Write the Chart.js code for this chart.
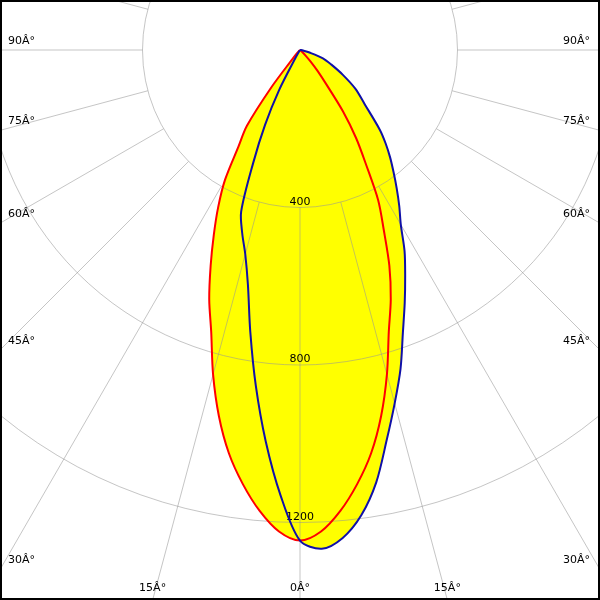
<!DOCTYPE html>
<html>
<head>
<meta charset="utf-8">
<script src="https://cdn.jsdelivr.net/npm/chart.js@4.4.0/dist/chart.umd.min.js"></script>
<style>
  body { margin: 0; background: #fff; }
  canvas { display: block; }
</style>
</head>
<body>
<canvas id="chartCanvas" width="600" height="600"></canvas>
<script>
// Angles in degrees (0 = straight down, negative = left half of the diagram)
const angles = [-90, -80, -70, -60, -50,
  -45, -42.5, -40, -37.5, -35, -32.5, -30, -27.5, -25, -22.5, -20, -17.5, -15, -12.5, -10, -7.5, -5, -2.5,
  0, 2.5, 5, 7.5, 10, 12.5, 15, 17.5, 20, 22.5, 25, 27.5, 30, 32.5, 35, 37.5, 40, 42.5, 45,
  50, 55, 60, 65, 70, 75, 80, 85, 90];

// Intensity (cd)
const redValues = [0, 0, 0, 0, 0,
  5, 12, 30, 120, 235, 291, 381, 450, 518, 593, 674, 750, 853, 952, 1040, 1112, 1175, 1224,
  1246, 1224, 1175, 1112, 1040, 952, 853, 750, 674, 593, 503, 430, 335, 265, 190, 110, 70, 40, 20,
  5, 0, 0, 0, 0, 0, 0, 0, 0];

// Intensity (cd)
const blueValues = [0, 0, 0, 0, 0,
  0, 0, 0, 0, 0, 3, 20, 115, 210, 311, 437, 488, 537, 611, 727, 860, 998, 1132,
  1246, 1268, 1244, 1192, 1115, 1016, 929, 849, 764, 695, 632, 575, 512, 469, 428, 390, 356, 322, 287,
  215, 172, 125, 88, 62, 25, 8, 2, 0];

// Grid circles and their labels
const circleValues = [400, 800, 1200, 1600];
const circleLabels = ['400', '800', '1200'];

// Angle ticks
const angleTicks = [0, 15, 30, 45, 60, 75, 90];
const angleTickLabels = ['0Â°', '15Â°', '30Â°', '45Â°', '60Â°', '75Â°', '90Â°'];

const gridColor = 'rgba(150,150,150,0.55)';
const labelFont = '11px "DejaVu Sans"';

// polar -> cartesian points
function toPoints(values) {
  return angles.map((a, i) => {
    const t = a * Math.PI / 180;
    return { x: values[i] * Math.sin(t), y: -values[i] * Math.cos(t) };
  });
}

// Grid, yellow fill and labels drawn under the curves
const polarGrid = {
  id: 'polarGrid',
  beforeDatasetsDraw(chart) {
    const { ctx, chartArea, scales: { x, y } } = chart;
    const cx = x.getPixelForValue(0);
    const cy = y.getPixelForValue(0);
    ctx.save();
    ctx.beginPath();
    ctx.rect(chartArea.left, chartArea.top, chartArea.width, chartArea.height);
    ctx.clip();

    // yellow fill of both curves, using the line elements' own (smoothed) path
    chart.data.datasets.forEach((ds, i) => {
      const line = chart.getDatasetMeta(i).dataset;
      ctx.beginPath();
      line.path(ctx);
      ctx.closePath();
      ctx.fillStyle = '#ffff00';
      ctx.fill();
    });

    // circles
    ctx.strokeStyle = gridColor;
    ctx.lineWidth = 1;
    const r0 = x.getPixelForValue(circleValues[0]) - cx;
    circleValues.forEach(v => {
      const r = x.getPixelForValue(v) - cx;
      ctx.beginPath();
      ctx.arc(cx, cy, r, 0, Math.PI * 2);
      ctx.stroke();
    });

    // radial lines every 15 degrees, starting at the first circle
    for (let a = -180; a < 180; a += 15) {
      const t = a * Math.PI / 180;
      ctx.beginPath();
      ctx.moveTo(cx + r0 * Math.sin(t), cy + r0 * Math.cos(t));
      ctx.lineTo(cx + 2000 * Math.sin(t), cy + 2000 * Math.cos(t));
      ctx.stroke();
    }

    ctx.fillStyle = '#000';
    ctx.font = labelFont;

    // circle labels
    ctx.textAlign = 'center';
    ctx.textBaseline = 'bottom';
    circleLabels.forEach((lbl, i) => {
      const r = x.getPixelForValue(circleValues[i]) - cx;
      ctx.fillText(lbl, cx, cy + r);
    });

    // angle labels where the rays meet the frame
    ctx.textBaseline = 'middle';
    angleTicks.forEach((a, i) => {
      [-1, 1].forEach(side => {
        if (a === 0 && side === 1) return;
        const s = Math.sin(a * Math.PI / 180);
        const c = Math.cos(a * Math.PI / 180);
        const dSide = s > 0.0001 ? (side < 0 ? cx - chartArea.left : chartArea.right - cx) / s : Infinity;
        const dBottom = c > 0.0001 ? (chartArea.bottom - cy) / c : Infinity;
        if (dSide < dBottom) {
          const ly = cy + dSide * c - 9;
          ctx.textAlign = side < 0 ? 'left' : 'right';
          ctx.fillText(angleTickLabels[i], side < 0 ? chartArea.left + 8 : chartArea.right - 10, ly);
        } else {
          ctx.textAlign = 'center';
          ctx.fillText(angleTickLabels[i], cx + side * dBottom * s, chartArea.bottom - 12);
        }
      });
    });
    ctx.restore();
  },
  afterDraw(chart) {
    const { ctx } = chart;
    ctx.save();
    ctx.strokeStyle = '#000';
    ctx.lineWidth = 2;
    ctx.strokeRect(1, 1, chart.width - 2, chart.height - 2);
    ctx.restore();
  }
};

const pxPerCd = 157.5 / 400;

const ctx = document.getElementById('chartCanvas').getContext('2d');
const chart = new Chart(ctx, {
  type: 'scatter',
  data: {
    datasets: [{
      label: 'C90-C270',
      data: toPoints(blueValues),
      showLine: true,
      borderColor: '#1010a8',
      borderWidth: 2,
      pointRadius: 0,
      fill: false,
      tension: 0.3
    }, {
      label: 'C0-C180',
      data: toPoints(redValues),
      showLine: true,
      borderColor: '#ff0000',
      borderWidth: 2,
      pointRadius: 0,
      fill: false,
      tension: 0.3
    }]
  },
  options: {
    responsive: false,
    animation: false,
    layout: { padding: 0 },
    plugins: {
      legend: { display: false },
      tooltip: { enabled: false }
    },
    scales: {
      x: { type: 'linear', display: false, min: -300 / pxPerCd, max: 300 / pxPerCd },
      y: { type: 'linear', display: false, min: -550 / pxPerCd, max: 50 / pxPerCd }
    }
  },
  plugins: [polarGrid]
});
</script>
</body>
</html>
